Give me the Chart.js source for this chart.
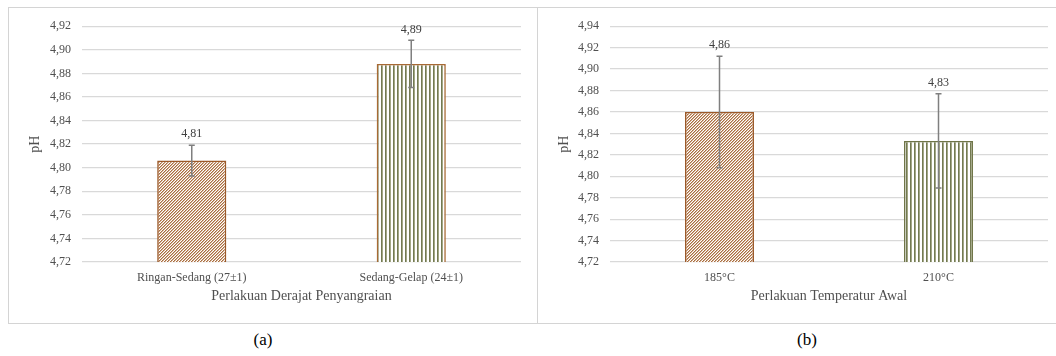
<!DOCTYPE html>
<html>
<head>
<meta charset="utf-8">
<script src="https://cdn.jsdelivr.net/npm/chart.js@4.4.1/dist/chart.umd.min.js"></script>
<style>
  html, body { margin: 0; padding: 0; background: #ffffff; }
  body { width: 1056px; height: 356px; position: relative; overflow: hidden; font-family: "Liberation Serif", "Times New Roman", serif; }
  .frame { position: absolute; box-sizing: border-box; border: 1px solid #d4d4d4; }
  #frameA { left: 8px; top: 7px; width: 530px; height: 317px; }
  #frameB { left: 537px; top: 7px; width: 540px; height: 317px; }
  canvas { position: absolute; }
  #chartA { left: 9px; top: 8px; }
  #chartB { left: 538px; top: 8px; }
  .cap { position: absolute; top: 330px; font-size: 17px; color: #000; transform: translateX(-50%); }
</style>
</head>
<body>
<div class="frame" id="frameA"></div>
<div class="frame" id="frameB"></div>
<canvas id="chartA" width="527" height="315"></canvas>
<canvas id="chartB" width="518" height="315"></canvas>
<div class="cap" style="left:263px">(a)</div>
<div class="cap" style="left:807px">(b)</div>
<script>
// (a) roasting degree
const categoriesA = ['Ringan-Sedang (27±1)', 'Sedang-Gelap (24±1)'];
const phA = [4.806, 4.888];
const errA = [0.013, 0.020];
const ticksA = [4.72, 4.74, 4.76, 4.78, 4.80, 4.82, 4.84, 4.86, 4.88, 4.90, 4.92];
const titleXA = 'Perlakuan Derajat Penyangraian';

// (b) initial temperature
const categoriesB = ['185°C', '210°C'];
const phB = [4.860, 4.833];
const errB = [0.052, 0.044];
const ticksB = [4.72, 4.74, 4.76, 4.78, 4.80, 4.82, 4.84, 4.86, 4.88, 4.90, 4.92, 4.94];
const titleXB = 'Perlakuan Temperatur Awal';

const titleY = 'pH';

const SERIF = '"Liberation Serif", "Times New Roman", serif';
const fmt = v => v.toFixed(2).replace('.', ',');

// fine diagonal "/" hatch, brown on white
function hatchPattern() {
  const n = 3;
  const c = document.createElement('canvas');
  c.width = n; c.height = n;
  const g = c.getContext('2d');
  g.fillStyle = '#ffffff';
  g.fillRect(0, 0, n, n);
  for (let x = 0; x < n; x++) {
    for (let y = 0; y < n; y++) {
      const k = (x + y) % n;
      if (k === 0) { g.fillStyle = '#a86d42'; g.fillRect(x, y, 1, 1); }
      else if (k === 1) { g.fillStyle = '#d6b496'; g.fillRect(x, y, 1, 1); }
    }
  }
  return g.createPattern(c, 'repeat');
}

// vertical olive stripes
function stripePattern() {
  const c = document.createElement('canvas');
  c.width = 4; c.height = 1;
  const g = c.getContext('2d');
  g.fillStyle = '#ffffff';
  g.fillRect(0, 0, 4, 1);
  g.fillStyle = '#737a52';
  g.fillRect(0, 0, 1, 1);
  g.fillStyle = '#a3a786';
  g.fillRect(1, 0, 1, 1);
  return g.createPattern(c, 'repeat');
}

// error bars plus value labels above them
const errorBarPlugin = {
  id: 'errorBars',
  afterDatasetsDraw(chart, args, opts) {
    const ctx = chart.ctx;
    const yScale = chart.scales.y;
    chart.data.datasets.forEach((ds, di) => {
      const meta = chart.getDatasetMeta(di);
      meta.data.forEach((bar, i) => {
        const v = ds.data[i];
        const e = opts.errors[i];
        const yTop = yScale.getPixelForValue(v + e);
        const yBot = yScale.getPixelForValue(v - e);
        const x = bar.x;
        ctx.save();
        ctx.strokeStyle = '#7f7f7f';
        ctx.lineWidth = 1.5;
        ctx.beginPath();
        ctx.moveTo(x, yTop); ctx.lineTo(x, yBot);
        ctx.moveTo(x - 3, yTop); ctx.lineTo(x + 3, yTop);
        ctx.moveTo(x - 3, yBot); ctx.lineTo(x + 3, yBot);
        ctx.stroke();
        ctx.fillStyle = '#404040';
        ctx.font = '12px ' + SERIF;
        ctx.textAlign = 'center';
        ctx.textBaseline = 'middle';
        ctx.fillText(fmt(v), x, yTop - 11);
        ctx.restore();
      });
    });
  }
};

function makeChart(id, categories, values, errors, ticks, xTitle, borders, padTop, padRight, yWidth) {
  const fills = [hatchPattern(), stripePattern()];
  return new Chart(document.getElementById(id), {
    type: 'bar',
    data: {
      labels: categories,
      datasets: [{
        data: values,
        backgroundColor: fills,
        borderColor: borders,
        borderWidth: 1.6,
        borderSkipped: 'bottom',
        barPercentage: 0.315,
        categoryPercentage: 1
      }]
    },
    plugins: [errorBarPlugin],
    options: {
      responsive: false,
      animation: false,
      devicePixelRatio: 1,
      layout: { padding: { top: padTop, right: padRight, left: 0, bottom: 0 } },
      plugins: {
        legend: { display: false },
        tooltip: { enabled: false },
        errorBars: { errors: errors }
      },
      scales: {
        x: {
          grid: { display: false, drawTicks: false },
          border: { display: false },
          ticks: { color: '#505050', font: { family: SERIF, size: 12 }, padding: 9 },
          title: { display: true, text: xTitle, color: '#505050', font: { family: SERIF, size: 14 }, padding: { top: 0, bottom: 18 } },
          afterFit: s => { s.height = 61; }
        },
        y: {
          min: ticks[0],
          max: ticks[ticks.length - 1],
          afterBuildTicks: s => { s.ticks = ticks.map(v => ({ value: v })); },
          grid: { color: '#d9d9d9', lineWidth: 1.2, drawTicks: false },
          border: { display: false },
          ticks: { color: '#505050', font: { family: SERIF, size: 12 }, padding: 11, callback: v => fmt(v) },
          title: { display: true, text: titleY, color: '#505050', font: { family: SERIF, size: 14 }, padding: { top: 18, bottom: 0 } },
          afterFit: s => { s.width = yWidth; }
        }
      }
    }
  });
}

makeChart('chartA', categoriesA, phA, errA, ticksA, titleXA, ['#9c5a2a', '#a86a35'], 15, 15, 73);
makeChart('chartB', categoriesB, phB, errB, ticksB, titleXB, ['#9c5a2a', '#6f7548'], 16, 8, 72);
</script>
</body>
</html>
